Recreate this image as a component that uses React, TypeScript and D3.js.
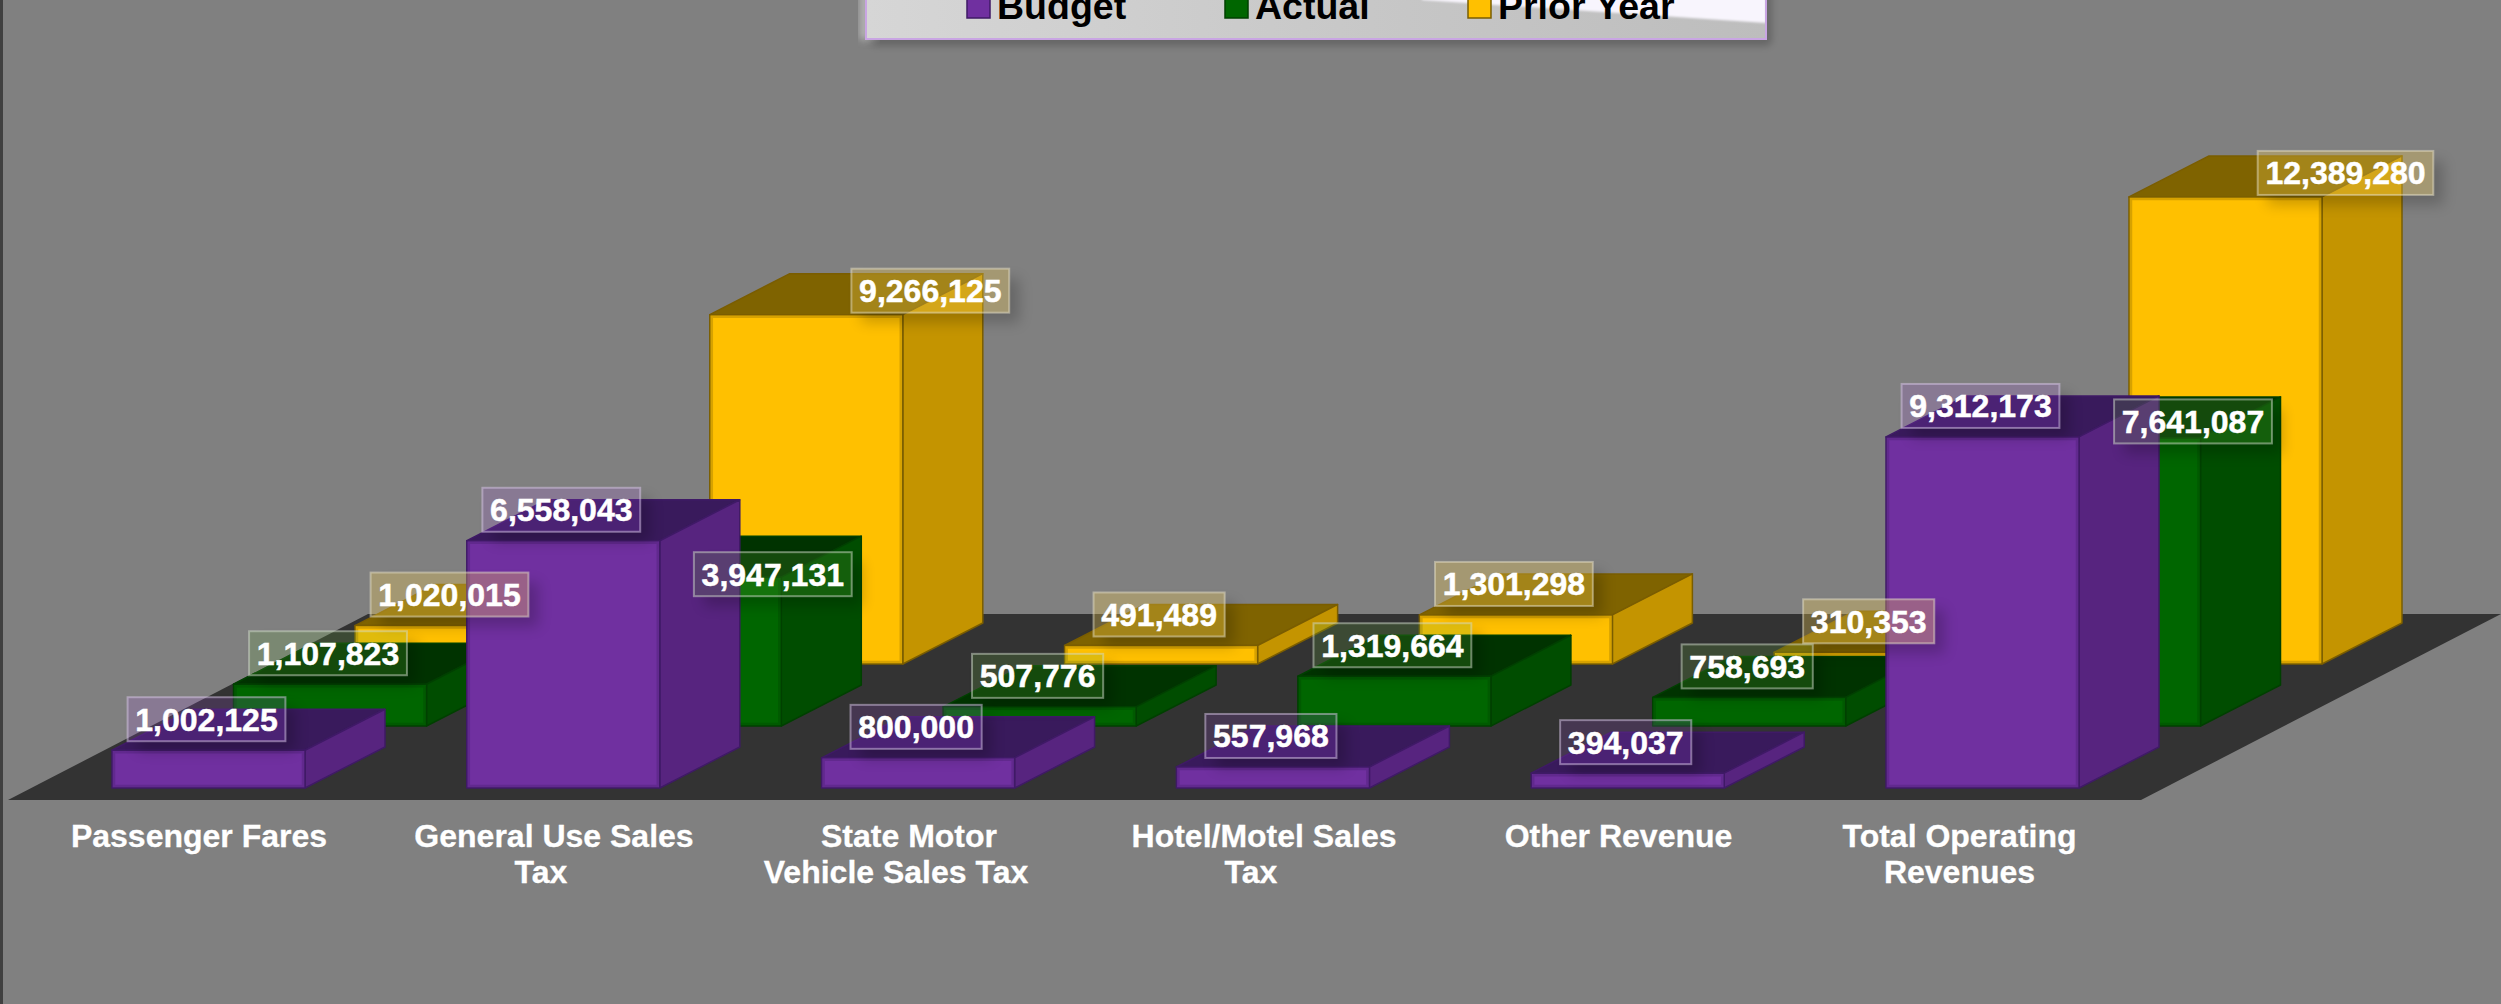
import React from "react";
import * as d3 from "d3";

const categories = ["Passenger Fares", "General Use Sales Tax", "State Motor Vehicle Sales Tax", "Hotel/Motel Sales Tax", "Other Revenue", "Total Operating Revenues"];
const seriesNames = ["Budget", "Actual", "Prior Year"];
const budget = [1002125, 6558043, 800000, 557968, 394037, 9312173];
const actual = [1107823, 3947131, 507776, 1319664, 758693, 7641087];
const priorYear = [1020015, 9266125, 491489, 1301298, 310353, 12389280];
const seriesValues = [budget, actual, priorYear];

const axisLines = [["Passenger Fares"], ["General Use Sales", "Tax"], ["State Motor", "Vehicle Sales Tax"], ["Hotel/Motel Sales", "Tax"], ["Other Revenue"], ["Total Operating", "Revenues"]];

// layout
const W = 2501, H = 1004;
const FONT = "'Liberation Sans', Arial, sans-serif";
const barW = 193, depthX = 80, depthY = 41;
const baseY = 788;
const palette = [
  { front: "#7030a0", side: "#57247f", top: "#391a5c", line: "#3f1a66", label: "rgb(180,80,255)", labelA: 0.15, border: "#d9c8ea" },
  { front: "#006600", side: "#004d00", top: "#003300", line: "#004000", label: "rgb(100,170,60)", labelA: 0.2, border: "#d2dccc" },
  { front: "#ffc000", side: "#c49400", top: "#7f6300", line: "#7a5d00", label: "rgb(250,207,83)", labelA: 0.3, border: "#e6dfc8" },
];
const xCat = d3.scaleLinear().domain([0, 5]).range([112, 1886]);
const xSeries = d3.scalePoint<string>().domain(seriesNames).range([0, 243]);
const ySeries = d3.scalePoint<string>().domain(seriesNames).range([0, 124]);
const hScale = d3.scaleLinear().domain([0, 1e6]).range([0, 37.7]);
const fmt = d3.format(",");

// label nudges where the reference moved a label off its bar: [series, category, dx, dy]
const labelNudges: [number, number, number, number][] = [
  [1, 1, 90, 28],
  [1, 5, 91, 14.5],
  [2, 1, 126, 7],
  [2, 5, 122, 7],
];
const axisCentres = [199, 554, 909, 1264, 1618.5, 1959.5];
const axisLineDx = [[0], [0, -13], [0, -13], [0, -13], [0], [0, 0]];

const pts = (p: number[][]) => p.map((q) => q.join(",")).join(" ");
const textW = (s: string) => [...s].reduce((a, c) => a + (c === "," ? 0.278 : 0.556), 0) * 32;

function Bar({ s, c }: { s: number; c: number }) {
  const name = seriesNames[s];
  const p = palette[s];
  const l = xCat(c) + xSeries(name)!;
  const r = l + barW;
  const b = baseY - ySeries(name)!;
  const t = b - hScale(seriesValues[s][c]);
  return (
    <g stroke={p.line} strokeWidth={1.5} strokeLinejoin="round">
      <polygon points={pts([[l, t], [r, t], [r + depthX, t - depthY], [l + depthX, t - depthY]])} fill={p.top} />
      <polygon points={pts([[r, t], [r + depthX, t - depthY], [r + depthX, b - depthY], [r, b]])} fill={p.side} />
      <rect x={l} y={t} width={barW} height={b - t} fill={p.front} />
      <rect x={l + 2} y={t + 2} width={barW - 4} height={Math.max(0, b - t - 4)} fill="none" strokeOpacity={0.3} strokeWidth={2.5} />
    </g>
  );
}

function Label({ s, c, idx }: { s: number; c: number; idx: number }) {
  const name = seriesNames[s];
  const v = seriesValues[s][c];
  const p = palette[s];
  const txt = fmt(v);
  const nudge = labelNudges.find((n) => n[0] === s && n[1] === c);
  const cx = xCat(c) + xSeries(name)! + barW / 2 - 2 + (nudge ? nudge[2] : 0);
  const cy = baseY - ySeries(name)! - hScale(v) - 31 + (nudge ? nudge[3] : 0);
  const w = textW(txt) + 15.5, h = 44;
  const x = cx - w / 2, y = cy - h / 2;
  const id = `lc${idx}`;
  return (
    <g>
      <clipPath id={id}>
        <path clipRule="evenodd" d={`M0 0H${W}V${H}H0Z M${x} ${y}H${x + w}V${y + h}H${x}Z`} />
      </clipPath>
      <g clipPath={`url(#${id})`}>
        <rect x={x + 10} y={y + 10} width={w} height={h} fill="#000" opacity={0.2} filter="url(#soft)" />
      </g>
      <rect x={x} y={y} width={w} height={h} fill={p.label} fillOpacity={p.labelA} stroke={p.border} strokeOpacity={0.5} strokeWidth={2} />
      <text x={cx} y={cy + 11.5} textAnchor="middle" fontFamily={FONT} fontWeight="bold" fontSize={32} fill="#fff" stroke="#fff" strokeWidth={0.5}>{txt}</text>
    </g>
  );
}

const legendX = [967, 1225, 1468];

export default function App() {
  const order = [2, 1, 0];
  let li = 0;
  return (
    <svg width={W} height={H} viewBox={`0 0 ${W} ${H}`} style={{ position: "absolute", left: 0, top: 0, display: "block" }}>
      <defs>
        <filter id="soft" x="-30%" y="-60%" width="160%" height="220%"><feGaussianBlur stdDeviation={7} /></filter>
        <filter id="soft2" x="-5%" y="-50%" width="110%" height="200%"><feGaussianBlur stdDeviation={3.5} /></filter>
        <filter id="soft3" x="-5%" y="-50%" width="110%" height="200%"><feGaussianBlur stdDeviation={1} /></filter>
        <linearGradient id="lg" x1="0" y1="0" x2="1" y2="0">
          <stop offset="0" stopColor="#d6d6d6" />
          <stop offset="0.6" stopColor="#c6c6c6" />
          <stop offset="1" stopColor="#bdbdbd" />
        </linearGradient>
        <clipPath id="legendClip"><rect x={866} y={-10} width={900} height={49} /></clipPath>
      </defs>
      <rect width={W} height={H} fill="#808080" />
      <rect width={3} height={H} fill="#404040" />

      {/* legend */}
      <rect x={859} y={-10} width={20} height={50} rx={4} fill="#b0b0b0" filter="url(#soft2)" />
      <rect x={870} y={-10} width={902} height={56} rx={6} fill="#000" opacity={0.2} filter="url(#soft2)" />
      <rect x={866} y={-10} width={900} height={49} fill="url(#lg)" />
      <g clipPath="url(#legendClip)">
        <polygon points={pts([[1422, 0], [1766, 23], [1766, -10], [1422, -10]])} fill="#f8f5fd" filter="url(#soft3)" />
      </g>
      <rect x={866} y={-10} width={900} height={49} fill="none" stroke="#c9a5e3" strokeWidth={2} />
      {seriesNames.map((n, i) => (
        <g key={n}>
          <rect x={legendX[i]} y={-6} width={23} height={24} fill={palette[i].front} stroke={palette[i].line} strokeWidth={1.5} />
          <text x={legendX[i] + 30} y={19} fontFamily={FONT} fontWeight="bold" fontSize={37.5} fill="#000">{n}</text>
        </g>
      ))}

      {/* floor */}
      <polygon points={pts([[8, 800], [2141, 800], [2501, 614], [368, 614]])} fill="#333333" />

      {/* bars, back to front */}
      {order.map((s) => categories.map((_, c) => <Bar key={`${s}-${c}`} s={s} c={c} />))}

      {/* value labels */}
      {order.map((s) => categories.map((_, c) => <Label key={`${s}-${c}`} s={s} c={c} idx={li++} />))}

      {/* category labels */}
      {axisLines.map((lines, c) => lines.map((ln, i) => (
        <text key={`${c}-${i}`} x={axisCentres[c] + axisLineDx[c][i]} y={847 + i * 36} textAnchor="middle" fontFamily={FONT} fontWeight="bold" fontSize={32} fill="#fff" stroke="#fff" strokeWidth={0.3}>{ln}</text>
      )))}
    </svg>
  );
}
